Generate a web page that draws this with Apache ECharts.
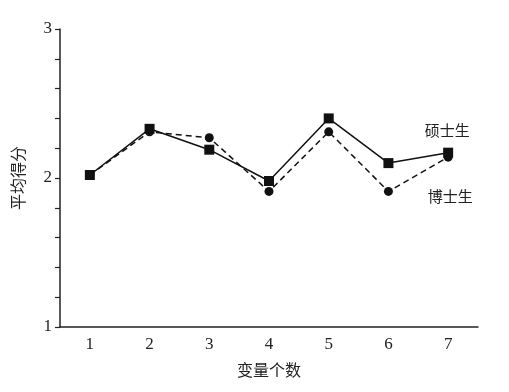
<!DOCTYPE html>
<html><head><meta charset="utf-8">
<script src="https://cdn.jsdelivr.net/npm/echarts@6/dist/echarts.min.js"></script>
<style>html,body{margin:0;padding:0;background:#fff}#c{width:509px;height:392px}</style>
</head><body><div id="c"></div>
<script>
const categories = ['1','2','3','4','5','6','7'];
const masters = [2.02, 2.33, 2.19, 1.98, 2.40, 2.10, 2.17];
const doctors = [2.02, 2.31, 2.27, 1.91, 2.31, 1.91, 2.14];
const seriesNames = ['硕士生', '博士生'];
const yTickLabels = [1, 2, 3];

const serif = '"Liberation Serif", "DejaVu Serif", serif';
const cjk = '"Noto Sans CJK SC", sans-serif';
const chart = echarts.init(document.getElementById('c'));
chart.setOption({
  animation: false,
  backgroundColor: '#fff',
  grid: { left: 60, right: 31, top: 29, bottom: 65 },
  xAxis: {
    type: 'category', data: categories, boundaryGap: true,
    name: '变量个数', nameLocation: 'middle', nameGap: 35,
    nameTextStyle: { fontFamily: cjk, fontSize: 16, color: '#222' },
    axisLine: { lineStyle: { color: '#222', width: 1.5 } },
    axisTick: { show: false },
    axisLabel: { fontFamily: serif, fontSize: 17, color: '#222', margin: 9 }
  },
  yAxis: {
    type: 'value', min: 1, max: 3, interval: 0.2,
    name: '平均得分', nameLocation: 'middle', nameGap: 34, nameRotate: 90,
    nameTextStyle: { fontFamily: cjk, fontSize: 16, color: '#222' },
    axisLine: { show: true, lineStyle: { color: '#222', width: 1.5 } },
    axisTick: { show: true, length: 5, lineStyle: { color: '#222', width: 1.2 } },
    splitLine: { show: false },
    axisLabel: {
      fontFamily: serif, fontSize: 17, color: '#222', margin: 8,
      formatter: v => yTickLabels.some(t => Math.abs(t - v) < 1e-6) ? String(Math.round(v)) : ''
    }
  },
  series: [
    {
      name: seriesNames[0], type: 'line', data: masters,
      symbol: 'rect', symbolSize: 10,
      itemStyle: { color: '#111' },
      lineStyle: { color: '#111', width: 1.5, type: 'solid' },
      markPoint: {
        symbol: 'circle', symbolSize: 0,
        data: [{ coord: [6, masters[6]], value: seriesNames[0] }],
        label: { show: true, position: 'top', offset: [-1, -10], formatter: seriesNames[0],
          fontFamily: cjk, fontSize: 15, color: '#222' }
      }
    },
    {
      name: seriesNames[1], type: 'line', data: doctors,
      symbol: 'circle', symbolSize: 9,
      itemStyle: { color: '#111' },
      lineStyle: { color: '#111', width: 1.5, type: [6, 4] },
      markPoint: {
        symbol: 'circle', symbolSize: 0,
        data: [{ coord: [6, doctors[6]], value: seriesNames[1] }],
        label: { show: true, position: 'bottom', offset: [2, 27], formatter: seriesNames[1],
          fontFamily: cjk, fontSize: 15, color: '#222' }
      }
    }
  ]
});
</script></body></html>
